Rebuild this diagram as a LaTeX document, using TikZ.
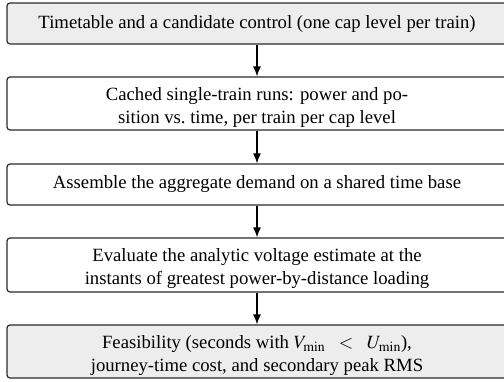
\documentclass[tikz,border=0pt]{standalone}
\usepackage{mathptmx}
\usepackage{fontspec}
\setmainfont{Liberation Serif}
\usetikzlibrary{arrows.meta}
\definecolor{boxfill}{HTML}{EDEDED}
\definecolor{boxline}{HTML}{2A2A2A}
\newcommand{\lowfirst}{\rule{0pt}{21pt}}
\tikzset{
  stepbox/.style={draw=boxline, line width=1.2pt, rounded corners=3pt,
    minimum width=500pt, minimum height=41pt, inner xsep=6pt, inner ysep=6pt,
    align=center, font=\fontsize{18.7}{23}\selectfont},
  twoline/.style={inner ysep=0pt},
  endbox/.style={stepbox, fill=boxfill},
  flow/.style={draw=black, line width=1.2pt, -{Latex[length=10pt,width=8pt]}},
}
\begin{document}
\begin{tikzpicture}[x=1pt,y=-1pt]
\clip (0,0) rectangle (504,381);
\node[endbox] (n1) at (257,23.5) {Timetable and a candidate control (one cap level per train)};
\node[stepbox, twoline, minimum height=53pt] (n2) at (257,103.5) {\lowfirst Cached single-train runs: power and po-\\sition vs.\ time, per train per cap level};
\node[stepbox] (n3) at (257,184.5) {Assemble the aggregate demand on a shared time base};
\node[stepbox, twoline, minimum height=54pt] (n4) at (257,265) {\lowfirst Evaluate the analytic voltage estimate at the\\instants of greatest power-by-distance loading};
\node[endbox, twoline, minimum height=53pt] (n5) at (257,351.5) {\lowfirst Feasibility (seconds with $V_{\min}\mskip9mu<\mskip9mu U_{\min}$),\\journey-time cost, and secondary peak RMS};
\draw[flow] (n1) -- (n2);
\draw[flow] (n2) -- (n3);
\draw[flow] (n3) -- (n4);
\draw[flow] (n4) -- (n5);
\end{tikzpicture}
\end{document}
